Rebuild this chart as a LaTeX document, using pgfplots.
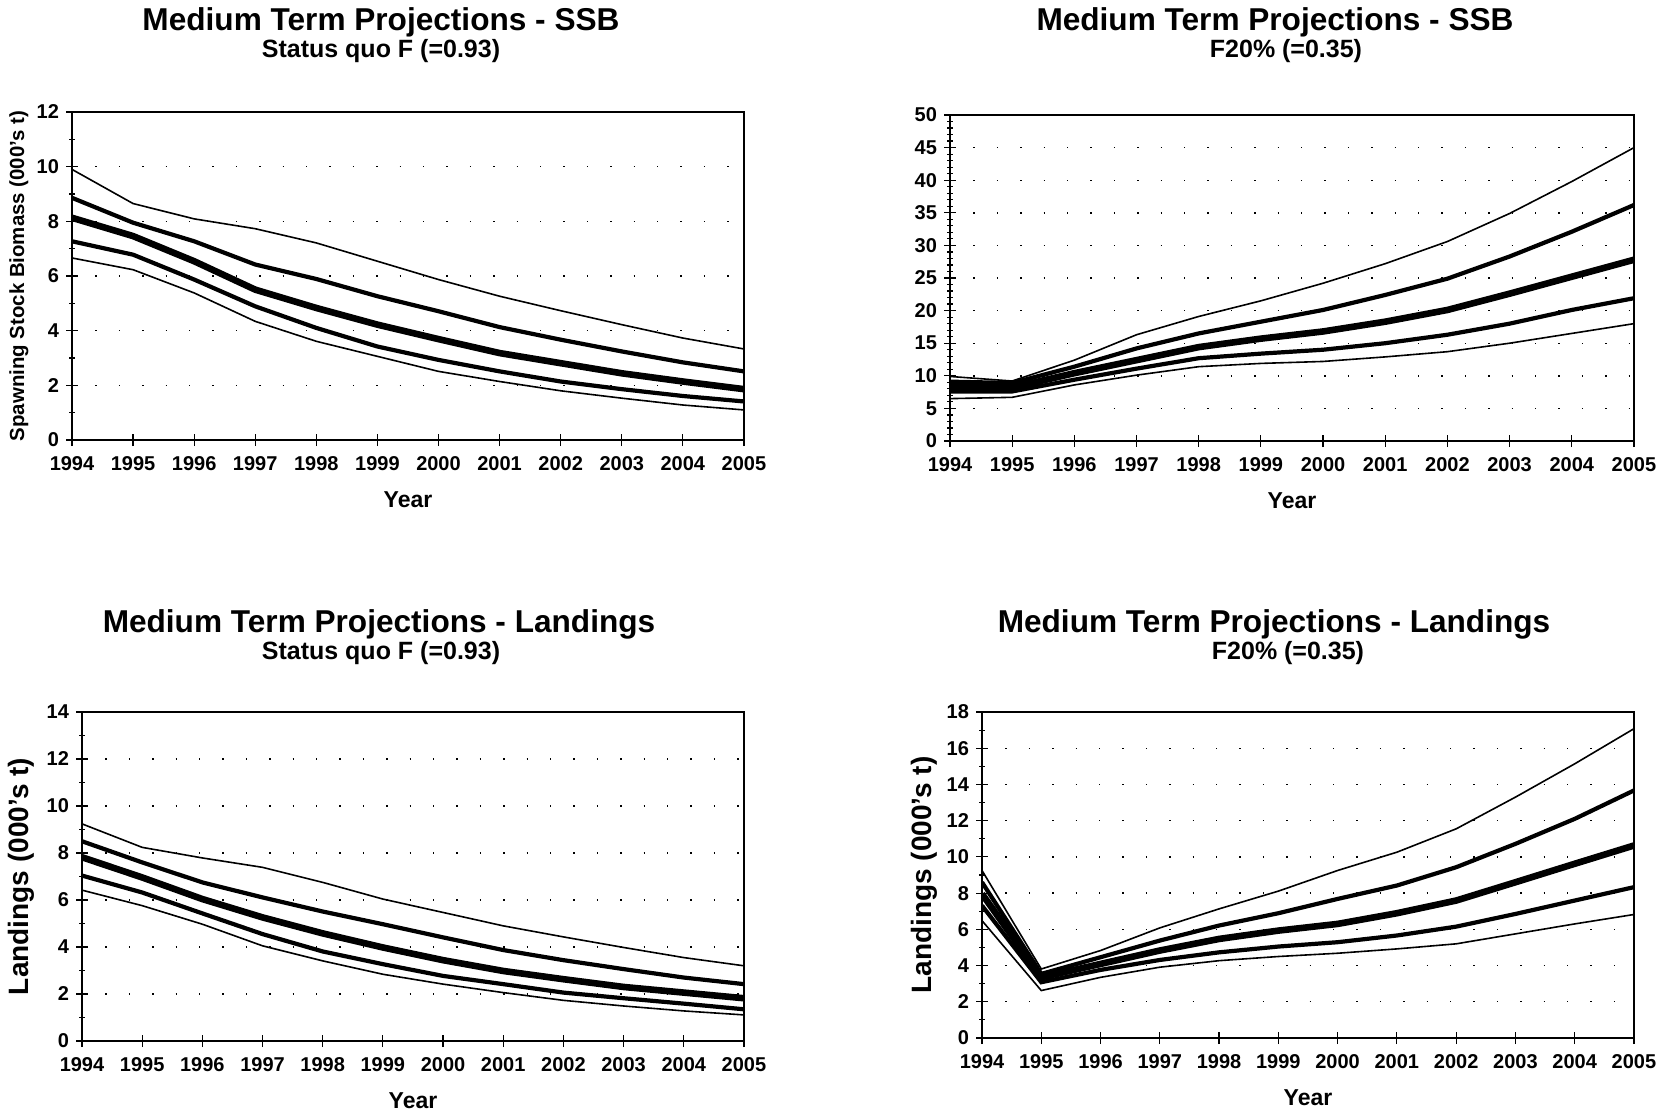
\documentclass[border=0pt]{standalone}
\usepackage{fontspec}
\setmainfont{Liberation Sans}
\usepackage{pgfplots}
\pgfplotsset{compat=1.18}

% columns: year, upper 95, upper 75, median, lower 75, lower 95
\pgfplotstableread{
year hi uq med lq lo
1994 9.90 8.86 8.13 7.27 6.66
1995 8.65 7.95 7.46 6.78 6.23
1996 8.09 7.27 6.54 5.87 5.38
1997 7.73 6.42 5.50 4.89 4.34
1998 7.21 5.89 4.83 4.10 3.61
1999 6.54 5.26 4.22 3.42 3.06
2000 5.87 4.71 3.69 2.93 2.51
2001 5.26 4.13 3.18 2.51 2.14
2002 4.73 3.67 2.81 2.14 1.80
2003 4.22 3.24 2.44 1.86 1.53
2004 3.73 2.84 2.14 1.61 1.28
2005 3.33 2.51 1.86 1.41 1.10
}\ssbsq
\pgfplotstableread{
year hi uq med lq lo
1994 9.9 9.1 8.3 7.6 6.5
1995 9.2 8.9 8.2 7.6 6.7
1996 12.4 11.4 10.4 9.4 8.6
1997 16.3 14.2 12.4 11.1 10.1
1998 19.1 16.5 14.4 12.7 11.4
1999 21.5 18.3 15.7 13.4 11.9
2000 24.2 20.1 16.8 14.0 12.2
2001 27.2 22.4 18.3 15.0 12.9
2002 30.6 24.9 20.1 16.3 13.7
2003 34.9 28.3 22.6 18.0 15.0
2004 39.8 32.1 25.2 20.1 16.5
2005 45.0 36.2 27.8 21.9 18.0
}\ssbft
\pgfplotstableread{
year hi uq med lq lo
1994 9.24 8.50 7.82 7.04 6.42
1995 8.24 7.60 6.96 6.32 5.76
1996 7.79 6.75 6.04 5.43 4.97
1997 7.39 6.11 5.26 4.55 4.05
1998 6.75 5.51 4.58 3.81 3.41
1999 6.04 4.97 3.98 3.27 2.84
2000 5.47 4.41 3.44 2.77 2.42
2001 4.90 3.87 2.98 2.42 2.06
2002 4.43 3.44 2.63 2.06 1.73
2003 3.98 3.06 2.30 1.82 1.49
2004 3.55 2.70 2.06 1.59 1.28
2005 3.20 2.42 1.82 1.35 1.11
}\landsq
\pgfplotstableread{
year hi uq med lq lo
1994 9.25 8.60 7.96 7.31 6.48
1995 3.81 3.54 3.35 3.08 2.62
1996 4.83 4.46 4.09 3.76 3.35
1997 6.08 5.38 4.83 4.31 3.91
1998 7.13 6.21 5.47 4.73 4.27
1999 8.11 6.89 5.93 5.05 4.50
2000 9.25 7.68 6.30 5.29 4.68
2001 10.26 8.42 6.89 5.66 4.92
2002 11.55 9.43 7.59 6.15 5.20
2003 13.30 10.72 8.60 6.85 5.75
2004 15.14 12.10 9.62 7.59 6.30
2005 17.08 13.67 10.63 8.33 6.82
}\landft

\pgfplotsset{
  proj/.style={
    scale only axis, anchor=south west,
    xmin=1994, xmax=2005, xtick={1994,...,2005}, ymin=0,
    tick pos=left, tick align=center,
    major tick length=6pt, minor tick length=3pt,
    every tick/.style={black, line width=0.6pt},
    axis line style={line width=0.8pt},
    /pgf/number format/1000 sep={},
    /pgf/number format/assume math mode=true,
    tick label style={font=\bfseries\fontsize{10}{12}\selectfont},
    x tick label style={yshift=-1.5pt},
    ymajorgrids,
    major grid style={black, line width=0.7pt, dash pattern=on 0.7pt off 11pt},
    xlabel={Year},
    xlabel style={at={(axis description cs:0.5,0)}, anchor=center, yshift=-30pt,
      font=\bfseries\fontsize{11.5}{13}\selectfont},
    ylabel style={rotate=0, anchor=center},
    thin95/.style={black, line width=0.8pt},
    mid75/.style={black, line width=2.1pt},
    medl/.style={black, line width=3.3pt},
  },
}
\newcommand{\fan}[1]{%
  \addplot[thin95] table[x=year,y=hi]{#1};
  \addplot[mid75] table[x=year,y=uq]{#1};
  \addplot[medl] table[x=year,y=med]{#1};
  \addplot[mid75] table[x=year,y=lq]{#1};
  \addplot[thin95] table[x=year,y=lo]{#1};
}

\begin{document}
\begin{tikzpicture}
\path[use as bounding box] (0,0) rectangle (834.5pt,557.5pt);

\begin{axis}[proj, at={(36pt,337.5pt)}, width=336pt, height=164pt,
  ymax=12, ytick={0,2,...,12}, minor y tick num=1,
  ylabel={Spawning Stock Biomass (000's t)},
  ylabel style={at={(axis description cs:-0.079,0.5)}, font=\bfseries\fontsize{10.2}{12}\selectfont}]
\fan{\ssbsq}
\end{axis}

\begin{axis}[proj, at={(475pt,337pt)}, width=342pt, height=163pt,
  ymax=50, ytick={0,5,...,50}, minor y tick num=4]
\fan{\ssbft}
\end{axis}

\begin{axis}[proj, at={(41pt,37pt)}, width=331pt, height=164.5pt,
  ymax=14, ytick={0,2,...,14}, minor y tick num=1,
  ylabel={Landings (000's t)},
  ylabel style={at={(axis description cs:-0.092,0.5)}, font=\bfseries\fontsize{14}{16}\selectfont}]
\fan{\landsq}
\end{axis}

\begin{axis}[proj, at={(491pt,38.5pt)}, width=326pt, height=163pt,
  ymax=18, ytick={0,2,...,18}, minor y tick num=1,
  ylabel={Landings (000's t)},
  ylabel style={at={(axis description cs:-0.089,0.5)}, font=\bfseries\fontsize{14}{16}\selectfont}]
\fan{\landft}
\end{axis}

\node[font=\bfseries\fontsize{15.8}{18}\selectfont] at (190.5pt,546.4pt) {Medium Term Projections - SSB};
\node[font=\bfseries\fontsize{12.5}{14}\selectfont] at (190.5pt,532pt) {Status quo F (=0.93)};
\node[font=\bfseries\fontsize{15.8}{18}\selectfont] at (637.5pt,546.4pt) {Medium Term Projections - SSB};
\node[font=\bfseries\fontsize{12.5}{14}\selectfont] at (643pt,532pt) {F20\% (=0.35)};
\node[font=\bfseries\fontsize{15.8}{18}\selectfont] at (189.5pt,245.4pt) {Medium Term Projections - Landings};
\node[font=\bfseries\fontsize{12.5}{14}\selectfont] at (190.5pt,231pt) {Status quo F (=0.93)};
\node[font=\bfseries\fontsize{15.8}{18}\selectfont] at (637pt,245.4pt) {Medium Term Projections - Landings};
\node[font=\bfseries\fontsize{12.5}{14}\selectfont] at (644pt,231pt) {F20\% (=0.35)};
\end{tikzpicture}
\end{document}
